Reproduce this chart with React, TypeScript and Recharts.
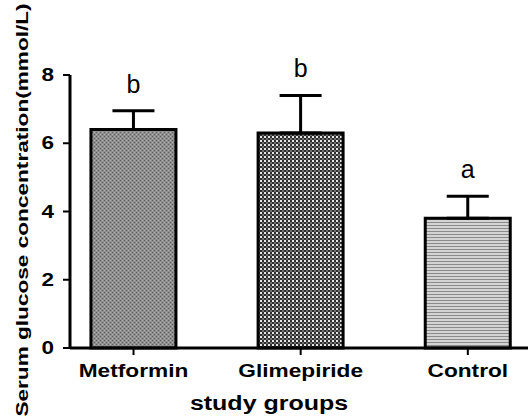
import React from 'react';
import { BarChart, Bar, XAxis, YAxis, ErrorBar, LabelList, Label, Cell } from 'recharts';

const groups = ['Metformin', 'Glimepiride', 'Control'];
const means = [6.4, 6.3, 3.8];
const sds = [0.55, 1.1, 0.65];
const letters = ['b', 'b', 'a'];
const fills = ['metforminFill', 'glimepirideFill', 'controlFill'];
const yTicks = [0, 2, 4, 6, 8];

const data = groups.map((group, i) => ({
  pos: i,
  group,
  mean: means[i],
  err: [0, sds[i]],
  letter: letters[i],
}));

const font = '"Liberation Sans", Arial, sans-serif';

const GroupTick = (props: any) => {
  const { x, y, payload } = props;
  return (
    <g transform={`translate(${x},${y + 20})`}>
      <text transform="scale(1.26,1)" textAnchor="middle" fontFamily={font} fontWeight="bold" fontSize={18} fill="#000">
        {groups[payload.value]}
      </text>
    </g>
  );
};

const ValueTick = (props: any) => {
  const { x, y, payload } = props;
  return (
    <g transform={`translate(${x},${y + 6})`}>
      <text transform="scale(1.25,1)" textAnchor="end" fontFamily={font} fontWeight="bold" fontSize={18} fill="#000">
        {payload.value}
      </text>
    </g>
  );
};

const SigLetter = (props: any) => {
  const { x, y, width, height, index } = props;
  const perUnit = height / means[index];
  const top = y - sds[index] * perUnit;
  return (
    <text x={x + width / 2} y={top - 18} textAnchor="middle" fontFamily={font} fontSize={25} fill="#000">
      {letters[index]}
    </text>
  );
};

const XTitle = (props: any) => {
  const { viewBox } = props;
  return (
    <g transform={`translate(${viewBox.x + 199},${viewBox.y + 62})`}>
      <text transform="scale(1.25,1)" textAnchor="middle" fontFamily={font} fontWeight="bold" fontSize={20} fill="#000">
        study groups
      </text>
    </g>
  );
};

const YTitle = () => (
  <g transform="translate(28,210) rotate(-90)">
    <text transform="scale(1.33,1)" textAnchor="middle" fontFamily={font} fontWeight="bold" fontSize={17} fill="#000">
      Serum glucose concentration(mmol/L)
    </text>
  </g>
);

export default function App() {
  return (
    <div style={{ width: 528, height: 417, background: '#fff' }}>
      <style>{'body{margin:0}'}</style>
      <BarChart width={528} height={417} data={data} margin={{ top: 75, right: 0, bottom: 0, left: 0 }}>
        <defs>
          <pattern id="metforminFill" width="4" height="4" patternUnits="userSpaceOnUse">
            <rect width="4" height="4" fill="#8e8e8e" />
            <rect width="1" height="1" fill="#5a5a5a" />
            <rect x="2" y="2" width="1" height="1" fill="#5a5a5a" />
            <rect x="2" y="0" width="1" height="1" fill="#b4b4b4" />
            <rect x="0" y="2" width="1" height="1" fill="#b4b4b4" />
          </pattern>
          <pattern id="glimepirideFill" width="4" height="4" patternUnits="userSpaceOnUse">
            <rect width="4" height="4" fill="#2e2e2e" />
            <rect width="2" height="2" fill="#e6e6e6" />
            <rect x="2" y="2" width="2" height="2" fill="#707070" />
          </pattern>
          <pattern id="controlFill" width="3" height="3" patternUnits="userSpaceOnUse">
            <rect width="3" height="3" fill="#d4d4d4" />
            <rect width="3" height="1" fill="#8a8a8a" />
          </pattern>
        </defs>
        <XAxis
          type="number"
          dataKey="pos"
          domain={[-0.38, 2.36]}
          ticks={[0, 1, 2]}
          height={69}
          axisLine={{ stroke: '#000', strokeWidth: 3 }}
          tickLine={{ stroke: '#000', strokeWidth: 2 }}
          tickSize={7}
          tick={<GroupTick />}
          interval={0}
        >
          <Label content={<XTitle />} />
        </XAxis>
        <YAxis
          domain={[0, 8]}
          ticks={yTicks}
          width={70}
          axisLine={{ stroke: '#000', strokeWidth: 3 }}
          tickLine={{ stroke: '#000', strokeWidth: 2 }}
          tickSize={7}
          tickMargin={9}
          tick={<ValueTick />}
        >
          <Label content={<YTitle />} />
        </YAxis>
        <Bar dataKey="mean" barSize={85} stroke="#000" strokeWidth={3} isAnimationActive={false}>
          {data.map((d, i) => (
            <Cell key={d.group} fill={`url(#${fills[i]})`} />
          ))}
          <ErrorBar dataKey="err" direction="y" width={21} stroke="#000" strokeWidth={3} />
          <LabelList dataKey="letter" content={<SigLetter />} />
        </Bar>
      </BarChart>
    </div>
  );
}
